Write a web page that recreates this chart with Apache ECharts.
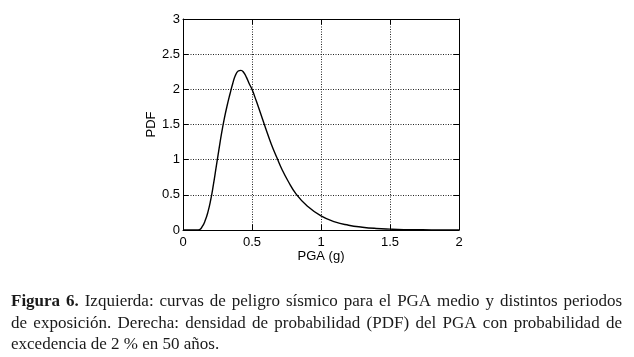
<!DOCTYPE html>
<html>
<head>
<meta charset="utf-8">
<script src="https://cdn.jsdelivr.net/npm/echarts@6/dist/echarts.min.js"></script>
<style>
html,body{margin:0;padding:0;background:#fff;}
#chart{width:634px;height:357px;}
</style>
</head>
<body>
<div id="chart"></div>
<script>
// PGA (g) values and PDF values
const pga = [0, 0.10, 0.12, 0.14, 0.16, 0.18, 0.20, 0.22, 0.24, 0.26, 0.28, 0.30, 0.32, 0.34, 0.36, 0.38, 0.40, 0.42, 0.44, 0.46, 0.48, 0.50, 0.53, 0.56, 0.60, 0.64, 0.68, 0.72, 0.76, 0.82, 0.90, 1.00, 1.10, 1.20, 1.30, 1.40, 1.50, 1.60, 1.80, 2.00];
const pdf = [0, 0, 0.005, 0.05, 0.13, 0.25, 0.42, 0.64, 0.89, 1.14, 1.38, 1.59, 1.77, 1.93, 2.08, 2.20, 2.26, 2.27, 2.24, 2.17, 2.08, 2.00, 1.84, 1.67, 1.44, 1.22, 1.03, 0.85, 0.70, 0.51, 0.34, 0.20, 0.115, 0.068, 0.040, 0.022, 0.012, 0.006, 0.002, 0];
const xTicks = [0, 0.5, 1, 1.5, 2];
const yTicks = [0, 0.5, 1, 1.5, 2, 2.5, 3];
const xName = 'PGA (g)';
const yName = 'PDF';
const captionBold = 'Figura 6.';
const captionLines = [
  'Izquierda: curvas de peligro sísmico para el PGA medio y distintos periodos',
  'de exposición. Derecha: densidad de probabilidad (PDF) del PGA con probabilidad de',
  'excedencia de 2 % en 50 años.'
];

const chart = echarts.init(document.getElementById('chart'));
const labelFont = 'Liberation Sans';
const capFont = 'Liberation Serif';
const capSize = 17;
const capColor = '#1a1a1a';

// caption layout: justify lines 1 and 2 between capLeft and capRight
const capLeft = 11, capRight = 622;
const capTops = [293.5, 315.5, 336.5];
const ctx = document.createElement('canvas').getContext('2d');
function measure(t, bold) {
  ctx.font = (bold ? 'bold ' : '') + capSize + 'px "' + capFont + '"';
  return ctx.measureText(t).width;
}
const graphics = [];
function placeLine(tokens, top, justify) {
  const widths = tokens.map(t => measure(t.text, t.bold));
  const sum = widths.reduce((a, b) => a + b, 0);
  const gap = justify ? (capRight - capLeft - sum) / (tokens.length - 1) : measure(' ', false);
  let x = capLeft;
  tokens.forEach((t, i) => {
    graphics.push({type: 'text', x: x, y: top, silent: true, style: {
      text: t.text, fontFamily: capFont, fontSize: capSize,
      fontWeight: t.bold ? 'bold' : 'normal', fill: capColor
    }});
    x += widths[i] + gap;
  });
}
const line1 = captionBold.split(' ').map(w => ({text: w, bold: true}))
  .concat(captionLines[0].split(' ').map(w => ({text: w, bold: false})));
placeLine(line1, capTops[0], true);
placeLine(captionLines[1].split(' ').map(w => ({text: w, bold: false})), capTops[1], true);
placeLine(captionLines[2].split(' ').map(w => ({text: w, bold: false})), capTops[2], false);

function mkTick() { return {show: true, inside: true, length: 5, lineStyle: {color: '#000', width: 1}}; }
function mkGrid() { return {show: true, lineStyle: {color: '#222', type: [1, 1.5], width: 1}}; }
function mkFrame() { return {show: true, onZero: false, lineStyle: {color: '#000', width: 1}}; }

chart.setOption({
  animation: false,
  backgroundColor: '#fff',
  grid: {left: 183, right: 175, top: 19, bottom: 127, containLabel: false},
  xAxis: [{
    type: 'value', min: xTicks[0], max: xTicks[xTicks.length - 1], interval: 0.5,
    axisLine: mkFrame(), axisTick: mkTick(), splitLine: mkGrid(),
    axisLabel: {color: '#000', fontFamily: labelFont, fontSize: 13, margin: 6,
      formatter: v => String(v)},
    name: xName, nameLocation: 'middle', nameGap: 20, nameMoveOverlap: false,
    nameTextStyle: {color: '#000', fontFamily: labelFont, fontSize: 13}
  }, {
    type: 'value', position: 'top', min: xTicks[0], max: xTicks[xTicks.length - 1], interval: 0.5,
    axisLine: mkFrame(), axisTick: mkTick(),
    splitLine: {show: false}, axisLabel: {show: false}
  }],
  yAxis: [{
    type: 'value', min: yTicks[0], max: yTicks[yTicks.length - 1], interval: 0.5,
    axisLine: mkFrame(), axisTick: mkTick(), splitLine: mkGrid(),
    axisLabel: {color: '#000', fontFamily: labelFont, fontSize: 13, margin: 3,
      formatter: v => String(v)},
    name: yName, nameLocation: 'middle', nameGap: 25, nameRotate: 90, nameMoveOverlap: false,
    nameTextStyle: {color: '#000', fontFamily: labelFont, fontSize: 13}
  }, {
    type: 'value', position: 'right', min: yTicks[0], max: yTicks[yTicks.length - 1], interval: 0.5,
    axisLine: mkFrame(), axisTick: mkTick(),
    splitLine: {show: false}, axisLabel: {show: false}
  }],
  series: [{
    type: 'line',
    data: pga.map((x, i) => [x, pdf[i]]),
    smooth: 0.5,
    showSymbol: false,
    clip: true,
    lineStyle: {color: '#000', width: 1.4},
    z: 5
  }],
  graphic: graphics
});
</script>
</body>
</html>
